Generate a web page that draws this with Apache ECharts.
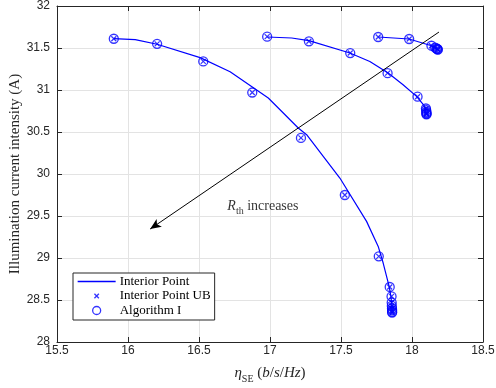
<!DOCTYPE html>
<html>
<head>
<meta charset="utf-8">
<script src="https://cdn.jsdelivr.net/npm/echarts@6/dist/echarts.min.js"></script>
<style>
html,body{margin:0;padding:0;background:#fff;}
#c{width:496px;height:388px;}
</style>
</head>
<body>
<div id="c"></div>
<script>
// ---- data ----
const xTicks = [15.5, 16, 16.5, 17, 17.5, 18, 18.5];
const yTicks = [28, 28.5, 29, 29.5, 30, 30.5, 31, 31.5, 32];

// Interior Point curves (line)
const line1X = [15.899, 16.051, 16.205, 16.508, 16.719, 16.988, 17.199, 17.258, 17.492, 17.680, 17.762, 17.797, 17.839, 17.851, 17.858, 17.86];
const line1Y = [31.611, 31.599, 31.545, 31.385, 31.218, 30.905, 30.548, 30.468, 29.952, 29.436, 29.138, 28.940, 28.662, 28.55, 28.44, 28.34];
const line2X = [16.981, 17.153, 17.274, 17.563, 17.703, 17.832, 17.937, 18.032, 18.090, 18.102];
const line2Y = [31.631, 31.619, 31.587, 31.440, 31.340, 31.202, 31.063, 30.924, 30.805, 30.71];
const line3X = [17.762, 17.98, 18.137, 18.18];
const line3Y = [31.631, 31.607, 31.527, 31.48];

// Interior Point UB markers
const ub1X = [15.90, 16.205, 16.53, 16.875, 17.218, 17.527, 17.766, 17.843, 17.856, 17.857, 17.858, 17.859, 17.86, 17.86, 17.86];
const ub1Y = [31.61, 31.55, 31.34, 30.97, 30.43, 29.75, 29.02, 28.655, 28.543, 28.47, 28.43, 28.40, 28.38, 28.36, 28.35];
const ub2X = [16.98, 17.274, 17.565, 17.828, 18.039, 18.098, 18.10, 18.101, 18.102, 18.102, 18.102];
const ub2Y = [31.635, 31.58, 31.44, 31.20, 30.92, 30.78, 30.76, 30.74, 30.725, 30.715, 30.71];
const ub3X = [17.762, 17.98, 18.137, 18.163, 18.172, 18.177, 18.18, 18.182];
const ub3Y = [31.631, 31.607, 31.527, 31.505, 31.495, 31.49, 31.485, 31.48];

// Algorithm I markers
const alg1X = [15.90, 16.205, 16.53, 16.875, 17.218, 17.527, 17.766, 17.843, 17.856, 17.857, 17.858, 17.859, 17.86, 17.86, 17.86];
const alg1Y = [31.61, 31.55, 31.34, 30.97, 30.43, 29.75, 29.02, 28.655, 28.543, 28.47, 28.43, 28.40, 28.38, 28.36, 28.35];
const alg2X = [16.98, 17.274, 17.565, 17.828, 18.039, 18.098, 18.10, 18.101, 18.102, 18.102, 18.102];
const alg2Y = [31.635, 31.58, 31.44, 31.20, 30.92, 30.78, 30.76, 30.74, 30.725, 30.715, 30.71];
const alg3X = [17.762, 17.98, 18.137, 18.163, 18.172, 18.177, 18.18, 18.182];
const alg3Y = [31.631, 31.607, 31.527, 31.505, 31.495, 31.49, 31.485, 31.48];

// annotation arrow (data coordinates)
const arrowFrom = [18.19, 31.69];
const arrowTo = [16.156, 29.345];
const notePos = [16.95, 29.63];

const seriesNames = ['Interior Point', 'Interior Point UB', 'Algorithm I'];

// ---- chart ----
const BLUE = '#0000ff';
const SERIF = '"Liberation Serif", "Times New Roman", serif';
const SANS = '"Liberation Sans", Arial, Helvetica, sans-serif';
const TXT = '#262626';
const zip = (xs, ys) => xs.map((x, i) => [x, ys[i]]);
const X_PATH = 'path://M0,0L10,10M10,0L0,10';
const X_LEGEND = 'path://M0,0M9,9M2,2L7,7M7,2L2,7';

const lineSeries = [[line1X, line1Y], [line2X, line2Y], [line3X, line3Y]].map(([xs, ys]) => ({
  name: seriesNames[0], type: 'line', data: zip(xs, ys), symbol: 'none', showSymbol: false,
  lineStyle: { color: BLUE, width: 1.2 }, itemStyle: { color: BLUE }, z: 3
}));
const ubSeries = [[ub1X, ub1Y], [ub2X, ub2Y], [ub3X, ub3Y]].map(([xs, ys]) => ({
  name: seriesNames[1], type: 'scatter', data: zip(xs, ys), symbol: X_PATH, symbolSize: 5,
  itemStyle: { color: 'transparent', borderColor: BLUE, borderWidth: 1.2 }, z: 4
}));
const algSeries = [[alg1X, alg1Y], [alg2X, alg2Y], [alg3X, alg3Y]].map(([xs, ys]) => ({
  name: seriesNames[2], type: 'scatter', data: zip(xs, ys), symbol: 'circle', symbolSize: 9,
  itemStyle: { color: 'transparent', borderColor: BLUE, borderWidth: 1.3 }, z: 4
}));

const annoSeries = {
  type: 'scatter', name: '_anno', data: [notePos], symbolSize: 0, silent: true,
  label: {
    show: true, position: 'inside',
    formatter: '{i|R}{s|th}{n| increases}',
    rich: {
      i: { fontFamily: SERIF, fontStyle: 'italic', fontSize: 14, color: '#000', lineHeight: 16, verticalAlign: 'bottom' },
      s: { fontFamily: SERIF, fontSize: 10, color: '#000', lineHeight: 16, verticalAlign: 'bottom', padding: [0, 0, -3, 0] },
      n: { fontFamily: SERIF, fontSize: 14, color: '#000', lineHeight: 16, verticalAlign: 'bottom' }
    }
  },
  markLine: {
    silent: true, symbol: ['none', 'arrow'], symbolSize: [7, 11],
    label: { show: false },
    lineStyle: { color: '#000', width: 1, type: 'solid' },
    data: [[{ coord: arrowFrom }, { coord: arrowTo }]]
  }
};

const axisCommon = {
  min: xTicks[0], max: xTicks[xTicks.length - 1], interval: 0.5
};

const chart = echarts.init(document.getElementById('c'), null, { renderer: 'canvas' });
chart.setOption({
  animation: false,
  backgroundColor: '#fff',
  grid: { left: 57, right: 13, top: 6, bottom: 46, containLabel: false, outerBoundsMode: 'none' },
  legend: {
    data: [
      { name: seriesNames[0], itemStyle: { opacity: 0 }, lineStyle: { color: BLUE, width: 1.3 } },
      { name: seriesNames[1], icon: X_LEGEND },
      { name: seriesNames[2], icon: 'circle' }
    ],
    orient: 'vertical', left: 73, top: 273,
    itemWidth: 38, itemHeight: 8, itemGap: 1.5,
    padding: [2, 4, 3, 4],
    backgroundColor: '#fff', borderColor: TXT, borderWidth: 1,
    selectedMode: false,
    itemStyle: { borderWidth: 1.3 },
    textStyle: { fontFamily: SERIF, fontSize: 13, lineHeight: 13, color: '#000', padding: [0, 0, 0, -1] }
  },
  xAxis: [{
    type: 'value', position: 'bottom', ...axisCommon,
    axisLine: { show: true, onZero: false, lineStyle: { color: TXT, width: 1 } },
    axisTick: { show: true, inside: true, length: 5, lineStyle: { color: TXT } },
    axisLabel: { show: true, margin: 3, fontFamily: SANS, fontSize: 12, color: TXT,
      formatter: v => String(v) },
    splitLine: { show: true, lineStyle: { color: '#e3e3e3', width: 1 } },
    name: '{i|η}{s|SE}{n| (}{i|b}{n|/}{i|s}{n|/}{i|Hz}{n|)}',
    nameLocation: 'middle', nameGap: 23, nameMoveOverlap: false,
    nameTextStyle: {
      rich: {
        i: { fontFamily: SERIF, fontStyle: 'italic', fontSize: 15, color: TXT, lineHeight: 16, verticalAlign: 'bottom' },
        s: { fontFamily: SERIF, fontSize: 10, color: TXT, lineHeight: 16, verticalAlign: 'bottom', padding: [0, 0, -3, 0] },
        n: { fontFamily: SERIF, fontSize: 15, color: TXT, lineHeight: 16, verticalAlign: 'bottom' }
      }
    }
  }, {
    type: 'value', position: 'top', ...axisCommon,
    axisLine: { show: true, onZero: false, lineStyle: { color: TXT, width: 1 } },
    axisTick: { show: true, inside: true, length: 5, lineStyle: { color: TXT } },
    axisLabel: { show: false }, splitLine: { show: false }
  }],
  yAxis: [{
    type: 'value', position: 'left', min: yTicks[0], max: yTicks[yTicks.length - 1], interval: 0.5,
    axisLine: { show: true, onZero: false, lineStyle: { color: TXT, width: 1 } },
    axisTick: { show: true, inside: true, length: 5, lineStyle: { color: TXT } },
    axisLabel: { show: true, margin: 7, fontFamily: SANS, fontSize: 12, color: TXT,
      formatter: v => String(v) },
    splitLine: { show: true, lineStyle: { color: '#e3e3e3', width: 1 } },
    name: 'Illumination current intensity (A)',
    nameLocation: 'middle', nameGap: 34, nameMoveOverlap: false,
    nameTextStyle: { fontFamily: SERIF, fontSize: 15, color: TXT }
  }, {
    type: 'value', position: 'right', min: yTicks[0], max: yTicks[yTicks.length - 1], interval: 0.5,
    axisLine: { show: true, onZero: false, lineStyle: { color: TXT, width: 1 } },
    axisTick: { show: true, inside: true, length: 5, lineStyle: { color: TXT } },
    axisLabel: { show: false }, splitLine: { show: false }
  }],
  series: [...lineSeries, ...ubSeries, ...algSeries, annoSeries]
});
</script>
</body>
</html>
